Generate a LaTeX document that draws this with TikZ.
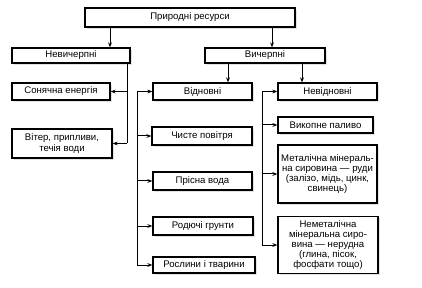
\documentclass[tikz,border=0pt]{standalone}
\usepackage{fontspec}
\setmainfont{Liberation Sans}
\usetikzlibrary{arrows.meta}
\usetikzlibrary{shadows}

\begin{document}
\begin{tikzpicture}[
    x=1pt, y=-1pt,
    res box/.style={
        draw, line width=1.2pt, fill=white, inner sep=1pt, align=center,
        font=\fontsize{9.6}{10.2}\selectfont,
        drop shadow={shadow xshift=1.6pt, shadow yshift=-1.8pt, fill=gray!45}
    },
    link/.style={line width=1pt, -{Stealth[length=5pt,width=3.8pt]}},
    trunk/.style={line width=1pt}
]
    \useasboundingbox (0,0) rectangle (422,288);

    % top levels
    \node[res box, minimum width=210pt, minimum height=19pt] (res) at (190,17.5) {Природні ресурси};
    \node[res box, minimum width=118pt, minimum height=15pt] (inexh) at (71,55.5) {Невичерпні};
    \node[res box, minimum width=120pt, minimum height=15pt] (exh) at (265,55.5) {Вичерпні};

    % inexhaustible
    \node[res box, minimum width=98pt, minimum height=17pt] (sun) at (61,91.5) {Сонячна енергія};
    \node[res box, minimum width=100pt, minimum height=29pt] (wind) at (62,143.5) {Вітер, припливи,\\ течія води};

    % renewable
    \node[res box, minimum width=99pt, minimum height=17pt] (renew) at (202.5,91.5) {Відновні};
    \node[res box, minimum width=100pt, minimum height=18pt] (air) at (202,136) {Чисте повітря};
    \node[res box, minimum width=99pt, minimum height=18pt] (water) at (202.5,181) {Прісна вода};
    \node[res box, minimum width=100pt, minimum height=18pt] (soil) at (203,226) {Родючі грунти};
    \node[res box, minimum width=102pt, minimum height=16pt] (biota) at (204,265) {Рослини і тварини};

    % non-renewable
    \node[res box, minimum width=99pt, minimum height=17pt] (nonrenew) at (327.5,91.5) {Невідновні};
    \node[res box, minimum width=95pt, minimum height=16pt] (fuel) at (325.5,125) {Викопне паливо};
    \node[res box, minimum width=99pt, minimum height=58pt] (metal) at (327.5,174)
        {Металічна мінераль-\\на сировина — руди\\(залізо, мідь, цинк,\\свинець)};
    \node[res box, minimum width=100pt, minimum height=57pt] (nonmetal) at (328,245)
        {Неметалічна\\мінеральна сиро-\\вина — нерудна\\(глина, пісок,\\фосфати тощо)};

    % links from the top
    \draw[link] ([xshift=-80pt]res.south) -- ([xshift=-80pt]res.south |- inexh.north);
    \draw[link] ([xshift=82pt]res.south) -- ([xshift=82pt]res.south |- exh.north);
    \draw[link] ([xshift=-37pt]exh.south) -- ([xshift=-37pt]exh.south |- renew.north);
    \draw[link] ([xshift=37pt]exh.south) -- ([xshift=37pt]exh.south |- nonrenew.north);

    % inexhaustible branch
    \coordinate (tr0) at (127,0);
    \draw[trunk] (tr0 |- inexh.south) -- (tr0 |- wind.east);
    \foreach \n in {sun,wind}
        \draw[link] (tr0 |- \n.east) -- (\n.east);

    % renewable branch
    \coordinate (tr1) at (137,0);
    \draw[trunk] (tr1 |- renew.west) -- (tr1 |- biota.west);
    \foreach \n in {renew,air,water,soil,biota}
        \draw[link] (tr1 |- \n.west) -- (\n.west);

    % non-renewable branch
    \coordinate (tr2) at (262,0);
    \draw[trunk] (tr2 |- nonrenew.west) -- (tr2 |- nonmetal.west);
    \foreach \n in {nonrenew,fuel,metal,nonmetal}
        \draw[link] (tr2 |- \n.west) -- (\n.west);

\end{tikzpicture}
\end{document}
